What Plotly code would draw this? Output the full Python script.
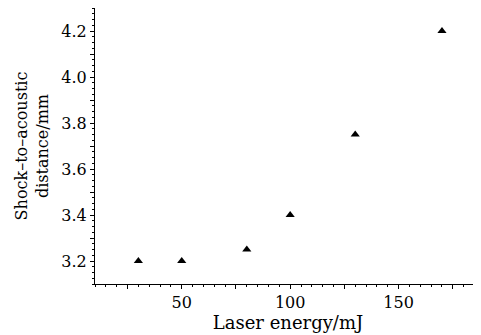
import plotly.graph_objects as go

energy = [30, 50, 80, 100, 130, 170]
distance = [3.20, 3.20, 3.25, 3.40, 3.75, 4.20]

x_tickvals = [25, 50, 75, 100, 125, 150, 175]
x_ticktext = ["", "50", "", "100", "", "150", ""]
y_tickvals = [3.2, 3.3, 3.4, 3.5, 3.6, 3.7, 3.8, 3.9, 4.0, 4.1, 4.2]
y_ticktext = ["3.2", "", "3.4", "", "3.6", "", "3.8", "", "4.0", "", "4.2"]

font = "DejaVu Serif"

fig = go.Figure(go.Scatter(
    x=energy, y=distance, mode="markers",
    marker=dict(symbol="triangle-up", size=8, color="black"),
    showlegend=False,
))

fig.update_layout(
    width=473, height=327,
    margin=dict(l=87, r=0, t=0, b=51),
    paper_bgcolor="white", plot_bgcolor="white",
    font=dict(family=font, size=16, color="black"),
)
fig.update_xaxes(
    range=[10, 188], showgrid=False, zeroline=False,
    showline=True, linecolor="black", linewidth=1.2,
    tickmode="array", tickvals=x_tickvals, ticktext=x_ticktext,
    ticks="outside", ticklen=4, tickwidth=1.2, tickcolor="black",
    minor=dict(dtick=5, tick0=0, ticks="outside", ticklen=2, tickcolor="black"),
    title=dict(text="Laser energy/mJ", standoff=0, font=dict(family=font, size=18)),
    tickfont=dict(family=font, size=16),
    automargin=False,
)
fig.update_yaxes(
    range=[3.1, 4.3], showgrid=False, zeroline=False,
    showline=True, linecolor="black", linewidth=1.2,
    tickmode="array", tickvals=y_tickvals, ticktext=y_ticktext,
    ticks="outside", ticklen=4, tickwidth=1.2, tickcolor="black",
    minor=dict(dtick=0.025, tick0=0, ticks="outside", ticklen=2, tickcolor="black"),
    title=dict(text="Shock–to–acoustic<br>distance/mm", standoff=8, font=dict(family=font, size=16)),
    tickfont=dict(family=font, size=16),
    automargin=False,
)

fig.write_html("out.html")
